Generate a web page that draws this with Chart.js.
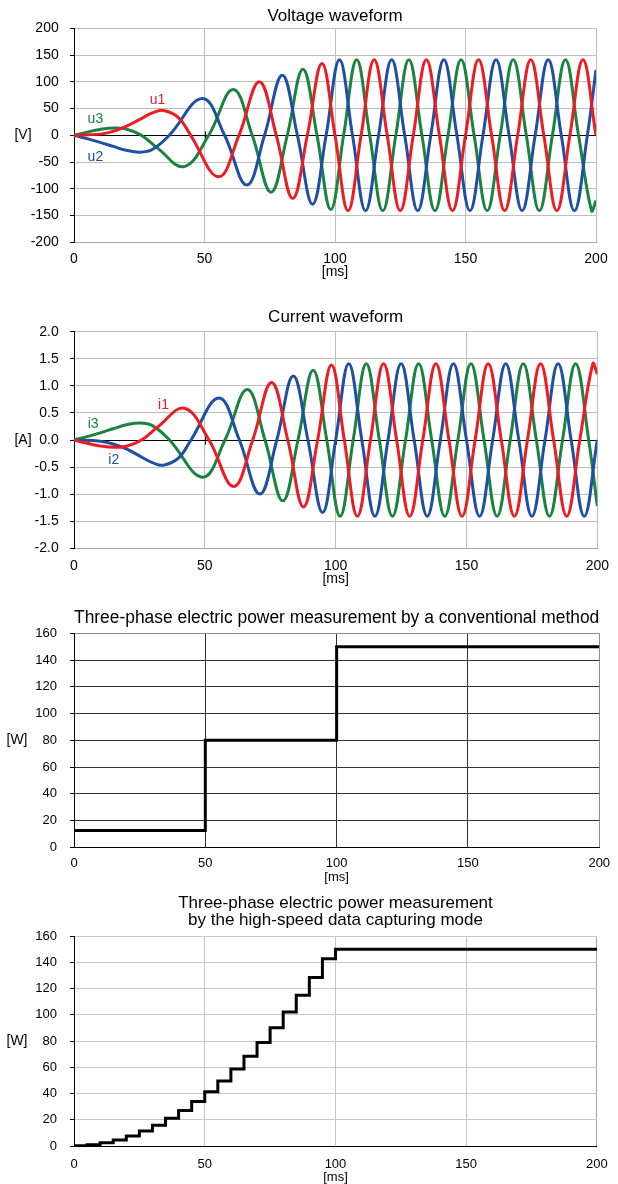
<!DOCTYPE html>
<html>
<head>
<meta charset="utf-8">
<title>Three-phase waveforms and power</title>
<script src="https://cdn.jsdelivr.net/npm/chart.js@4.4.1/dist/chart.umd.min.js"></script>
<style>
    html, body { margin: 0; padding: 0; background: #fff; }
    body { width: 618px; height: 1184px; position: relative; overflow: hidden; }
    canvas { position: absolute; left: 0; }
</style>
</head>
<body>
<canvas id="voltageChart" width="618" height="280" style="top:0px"></canvas>
<canvas id="currentChart" width="618" height="290" style="top:300px"></canvas>
<canvas id="convChart" width="618" height="285" style="top:600px"></canvas>
<canvas id="fastChart" width="618" height="299" style="top:885px"></canvas>
<script>
// ---- data (time in ms) ----
// voltage u1 (red): start-up ramp, then 141 V peaks every 20 ms
const u1Time = [0, 10, 15, 20, 25, 30, 34.2, 40, 44.7, 55.4, 63.2, 71, 77.5, 83.8, 89.4, 95, 100,
    105, 110, 115, 120, 125, 130, 135, 140, 145, 150, 155, 160, 165, 170, 175, 180, 185, 190, 195, 200];
const u1Volt = [0, 2.2, 7.3, 16.6, 29.3, 41.8, 46.5, 33.2, 0, -77.7, 0, 99.9, 0, -118, 0, 134, 0,
    -141, 0, 141, 0, -141, 0, 141, 0, -141, 0, 141, 0, -141, 0, 141, 0, -141, 0, 141, 0];
// voltage u2 (blue)
const u2Time = [0, 5, 10, 15, 20, 25.2, 30, 36.5, 49.2, 57.7, 66.2, 73, 79.8, 85.6, 91.4, 96.6,
    101.7, 106.7, 111.7, 116.7, 121.7, 126.7, 131.7, 136.7, 141.7, 146.7, 151.7, 156.7, 161.7, 166.7,
    171.7, 176.7, 181.7, 186.7, 191.7, 196.7, 200];
const u2Volt = [0, -6.2, -13.2, -20.8, -28, -31.6, -26.6, 0, 68.7, 0, -93.1, 0, 112.4, 0, -128.8, 0,
    141, 0, -141, 0, 141, 0, -141, 0, 141, 0, -141, 0, 141, 0, -141, 0, 141, 0, -141, 0, 122];
// voltage u3 (green)
const u3Time = [0, 5, 10, 15.7, 20, 25.8, 32, 42.2, 51.6, 61, 68.3, 75.5, 81.7, 87.7, 93.1, 98.4,
    103.3, 108.3, 113.3, 118.3, 123.3, 128.3, 133.3, 138.3, 143.3, 148.3, 153.3, 158.3, 163.3, 168.3,
    173.3, 178.3, 183.3, 188.3, 193.3, 198.3, 200];
const u3Volt = [0, 6, 11, 13.6, 11.5, 0, -24, -58.5, 0, 85.7, 0, -106.3, 0, 123.6, 0, -138.7,
    0, 141, 0, -141, 0, 141, 0, -141, 0, 141, 0, -141, 0, 141, 0, -141, 0, 141, 0, -141, -122];

// current i1 (red)
const i1Time = [0, 5, 10, 15.7, 20, 25.8, 32, 42.2, 51.6, 61, 68.3, 75.5, 81.7, 87.7, 93.1, 98.4,
    103.3, 108.3, 113.3, 118.3, 123.3, 128.3, 133.3, 138.3, 143.3, 148.3, 153.3, 158.3, 163.3, 168.3,
    173.3, 178.3, 183.3, 188.3, 193.3, 198.3, 200];
const i1Amp = [0, -0.06, -0.11, -0.136, -0.115, 0, 0.24, 0.585, 0, -0.857, 0, 1.063, 0, -1.236, 0, 1.387,
    0, -1.41, 0, 1.41, 0, -1.41, 0, 1.41, 0, -1.41, 0, 1.41, 0, -1.41, 0, 1.41, 0, -1.41, 0, 1.41, 1.22];
// current i2 (blue)
const i2Time = [0, 10, 15, 20, 25, 30, 34.2, 40, 44.7, 55.4, 63.2, 71, 77.5, 83.8, 89.4, 95, 100,
    105, 110, 115, 120, 125, 130, 135, 140, 145, 150, 155, 160, 165, 170, 175, 180, 185, 190, 195, 200];
const i2Amp = [0, -0.022, -0.073, -0.166, -0.293, -0.418, -0.465, -0.332, 0, 0.777, 0, -0.999, 0, 1.18, 0, -1.34, 0,
    1.41, 0, -1.41, 0, 1.41, 0, -1.41, 0, 1.41, 0, -1.41, 0, 1.41, 0, -1.41, 0, 1.41, 0, -1.41, 0];
// current i3 (green)
const i3Time = [0, 5, 10, 15, 20, 25.2, 30, 36.5, 49.2, 57.7, 66.2, 73, 79.8, 85.6, 91.4, 96.6,
    101.7, 106.7, 111.7, 116.7, 121.7, 126.7, 131.7, 136.7, 141.7, 146.7, 151.7, 156.7, 161.7, 166.7,
    171.7, 176.7, 181.7, 186.7, 191.7, 196.7, 200];
const i3Amp = [0, 0.062, 0.132, 0.208, 0.28, 0.316, 0.266, 0, -0.687, 0, 0.931, 0, -1.124, 0, 1.288, 0,
    -1.41, 0, 1.41, 0, -1.41, 0, 1.41, 0, -1.41, 0, 1.41, 0, -1.41, 0, 1.41, 0, -1.41, 0, 1.41, 0, -1.22];

// power, conventional method (one value per 50 ms)
const convTime = [0, 50, 100, 200];
const convPower = [12.5, 80, 150, 150];
// power, high-speed data capturing mode (one value per 5 ms)
const fastTime = [0, 5, 10, 15, 20, 25, 30, 35, 40, 45, 50, 55, 60, 65, 70, 75, 80, 85, 90, 95, 100, 200];
const fastPower = [0.1, 0.9, 2.4, 4.6, 7.6, 11.4, 15.9, 21.1, 27.1, 33.9, 41.4, 49.6, 58.6, 68.4, 78.9,
    90.1, 102.1, 114.9, 128.4, 142.6, 150, 150];

const RED = '#ec1c24';
const BLUE = '#1f4fa5';
const GREEN = '#1b823f';
const FONT = "'Liberation Sans', Arial, sans-serif";

Chart.defaults.font.family = FONT;
Chart.defaults.color = '#000';

const toPoints = (xs, ys) => xs.map((x, i) => ({ x: x, y: ys[i] }));

const waveSet = (label, xs, ys, color) => ({
    label: label,
    data: toPoints(xs, ys),
    borderColor: color,
    borderWidth: 3,
    pointRadius: 0,
    tension: 0.4,
    fill: false,
});

// each value holds until the next time stamp
const stepSet = (label, xs, ys) => ({
    label: label,
    data: toPoints(xs, ys),
    borderColor: '#000',
    borderWidth: 3,
    pointRadius: 0,
    stepped: 'before',
    fill: false,
});

// unit text left of the axis, series names, small ticks on the zero line
const extraText = {
    id: 'extraText',
    beforeDatasetsDraw(chart, args, opts) {
        if (!opts.zeroTicks) return;
        const { ctx, scales } = chart;
        const y0 = Math.round(scales.y.getPixelForValue(0)) + 0.5;
        ctx.save();
        ctx.strokeStyle = '#000';
        ctx.lineWidth = 1;
        [50, 100, 150].forEach(v => {
            const x = Math.round(scales.x.getPixelForValue(v)) + 0.5;
            ctx.beginPath();
            ctx.moveTo(x, y0 - 4);
            ctx.lineTo(x, y0 + 4);
            ctx.stroke();
        });
        ctx.restore();
    },
    afterDraw(chart, args, opts) {
        const { ctx, scales } = chart;
        ctx.save();
        ctx.textAlign = 'center';
        ctx.textBaseline = 'middle';
        ctx.font = '14px ' + FONT;
        ctx.fillStyle = '#000';
        ctx.fillText(opts.unit, opts.unitX, scales.y.getPixelForValue(opts.unitAt));
        (opts.labels || []).forEach(l => {
            ctx.fillStyle = l.color;
            ctx.fillText(l.text, scales.x.getPixelForValue(l.x), scales.y.getPixelForValue(l.y));
        });
        ctx.restore();
    },
};

function makeOptions(p) {
    return {
        responsive: false,
        animation: false,
        events: [],
        layout: { padding: { left: 0, top: 0, bottom: 0, right: 618 - p.right } },
        plugins: {
            legend: { display: false },
            tooltip: { enabled: false },
            title: {
                display: true,
                text: p.title,
                fullSize: false,
                color: '#000',
                font: { size: p.titleSize, weight: 'normal', lineHeight: p.titleLineHeight },
                padding: { top: p.titleTop, bottom: p.titleBottom },
            },
            extraText: p.extra,
        },
        scales: {
            x: {
                type: 'linear',
                min: 0,
                max: 200,
                ticks: { stepSize: 50, autoSkip: false, maxRotation: 0, padding: p.xPad, font: { size: p.tickSize } },
                grid: { drawTicks: false, color: p.xGrid },
                border: { color: p.xBorder },
                title: {
                    display: true,
                    text: '[ms]',
                    font: { size: p.msSize, lineHeight: 1 },
                    padding: { top: 0, bottom: p.msPad },
                },
                afterFit: s => { s.height = p.height - p.bottom; },
            },
            y: {
                min: p.yMin,
                max: p.yMax,
                ticks: { stepSize: p.yStep, padding: p.yPad, font: { size: p.tickSize }, callback: p.yFormat },
                grid: { tickLength: 4, tickColor: '#000', color: p.yGrid },
                border: { color: '#000' },
                afterFit: s => { s.width = 74; },
            },
        },
    };
}

const NONE = 'rgba(0,0,0,0)';

// 1. Voltage waveform
new Chart(document.querySelector('#voltageChart'), {
    type: 'line',
    data: {
        datasets: [
            waveSet('u1', u1Time, u1Volt, RED),
            waveSet('u2', u2Time, u2Volt, BLUE),
            waveSet('u3', u3Time, u3Volt, GREEN),
        ],
    },
    options: makeOptions({
        title: 'Voltage waveform', titleSize: 17, titleLineHeight: 1.2, titleTop: 6.1, titleBottom: 1.8,
        height: 280, bottom: 242.3, right: 596,
        tickSize: 14, xPad: 8, msSize: 14, msPad: 1.3, yPad: 11.3,
        yMin: -200, yMax: 200, yStep: 50,
        yFormat: v => v,
        xGrid: c => (c.index === 0 ? NONE : '#bfbfbf'),
        xBorder: '#a6a6a6',
        yGrid: c => (c.tick.value === 0 ? '#000' : '#bfbfbf'),
        extra: {
            unit: '[V]', unitX: 23, unitAt: 0, zeroTicks: true,
            labels: [
                { text: 'u1', x: 32, y: 65, color: RED },
                { text: 'u3', x: 8.2, y: 31, color: GREEN },
                { text: 'u2', x: 8.2, y: -40, color: BLUE },
            ],
        },
    }),
    plugins: [extraText],
});

// 2. Current waveform
new Chart(document.querySelector('#currentChart'), {
    type: 'line',
    data: {
        datasets: [
            waveSet('i1', i1Time, i1Amp, RED),
            waveSet('i2', i2Time, i2Amp, BLUE),
            waveSet('i3', i3Time, i3Amp, GREEN),
        ],
    },
    options: makeOptions({
        title: 'Current waveform', titleSize: 17, titleLineHeight: 1.2, titleTop: 6.8, titleBottom: 4.5,
        height: 290, bottom: 248.3, right: 602,
        tickSize: 14, xPad: 9, msSize: 14, msPad: 4, yPad: 11.3,
        yMin: -2, yMax: 2, yStep: 0.5,
        yFormat: v => Number(v).toFixed(1),
        xGrid: c => (c.index === 0 ? NONE : '#bfbfbf'),
        xBorder: '#a6a6a6',
        yGrid: c => (Math.abs(c.tick.value) < 1e-9 ? '#000' : '#bfbfbf'),
        extra: {
            unit: '[A]', unitX: 23, unitAt: 0, zeroTicks: true,
            labels: [
                { text: 'i1', x: 34.2, y: 0.65, color: RED },
                { text: 'i3', x: 7.3, y: 0.3, color: GREEN },
                { text: 'i2', x: 15.2, y: -0.37, color: BLUE },
            ],
        },
    }),
    plugins: [extraText],
});

// 3. Conventional method
new Chart(document.querySelector('#convChart'), {
    type: 'line',
    data: { datasets: [stepSet('P', convTime, convPower)] },
    options: makeOptions({
        title: 'Three-phase electric power measurement by a conventional method',
        titleSize: 18, titleLineHeight: 1.2, titleTop: 7.2, titleBottom: 4.5,
        height: 285, bottom: 247.3, right: 600,
        tickSize: 13, xPad: 7.9, msSize: 13, msPad: 1.5, yPad: 13,
        yMin: 0, yMax: 160, yStep: 20,
        yFormat: v => v,
        xGrid: c => (c.index === 0 ? NONE : c.tick.value === 200 ? '#8c8c8c' : '#333'),
        xBorder: '#000',
        yGrid: c => (c.tick.value === 0 ? NONE : c.tick.value === 160 ? '#8c8c8c' : '#333'),
        extra: { unit: '[W]', unitX: 17, unitAt: 80 },
    }),
    plugins: [extraText],
});

// 4. High-speed data capturing mode
new Chart(document.querySelector('#fastChart'), {
    type: 'line',
    data: { datasets: [stepSet('P', fastTime, fastPower)] },
    options: makeOptions({
        title: ['Three-phase electric power measurement', 'by the high-speed data capturing mode'],
        titleSize: 17, titleLineHeight: 1, titleTop: 9.5, titleBottom: 7.5,
        height: 299, bottom: 261, right: 598.3,
        tickSize: 13, xPad: 10.2, msSize: 13, msPad: 0, yPad: 13,
        yMin: 0, yMax: 160, yStep: 20,
        yFormat: v => v,
        xGrid: c => (c.index === 0 ? NONE : c.tick.value === 200 ? '#a0a0a0' : '#c8c8c8'),
        xBorder: '#000',
        yGrid: c => (c.tick.value === 0 ? NONE : '#c8c8c8'),
        extra: { unit: '[W]', unitX: 17, unitAt: 80 },
    }),
    plugins: [extraText],
});
</script>
</body>
</html>
